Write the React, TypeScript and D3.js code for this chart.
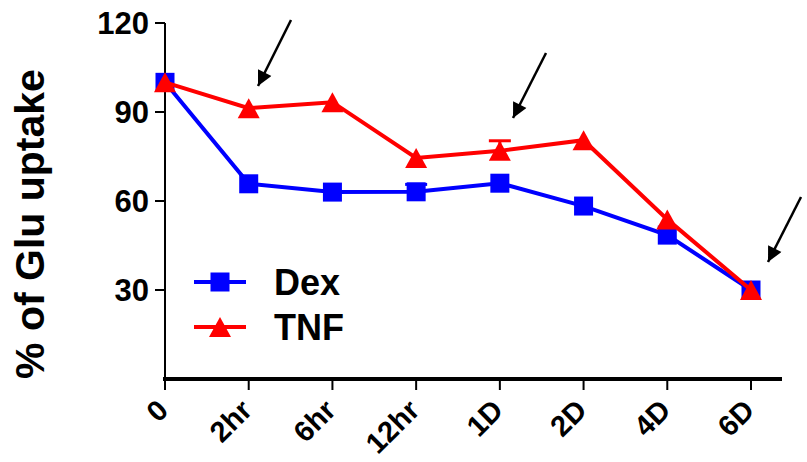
import React from "react";
import * as d3 from "d3";

const categories = ["0", "2hr", "6hr", "12hr", "1D", "2D", "4D", "6D"];
const dexValues = [100, 65.8, 63, 63.1, 66, 58.3, 48.5, 30];
const dexErrors = [0, 0, 0, 2.5, 0, 0, 0, 0];
const tnfValues = [100, 91.3, 93.3, 74.5, 76.9, 80.5, 53.8, 30];
const tnfErrors = [0, 0, 0, 0, 3.4, 0, 0, 0];
const yTicks = [30, 60, 90, 120];
const seriesNames = ["Dex", "TNF"];

// arrows pointing at the time points of interest: [x1, y1, x2, y2]
const arrows = [
  [291, 20, 258, 86],
  [546, 53, 513, 118],
  [801, 197, 768, 262],
];

const W = 807;
const H = 462;
const FONT = "'Liberation Sans', Arial, sans-serif";

export default function App() {
  const x = d3.scalePoint<string>().domain(categories).range([165, 751]);
  const y = d3.scaleLinear().domain([0, 120]).range([379, 23]);

  const line = d3
    .line<number>()
    .x((_, i) => x(categories[i]) as number)
    .y((d) => y(d));

  const square = (cx: number, cy: number, s = 19) => (
    <rect x={cx - s / 2} y={cy - s / 2} width={s} height={s} fill="#0000ff" />
  );
  const triangle = (cx: number, cy: number, w = 22, h = 20) => (
    <path
      d={`M${cx},${cy - h / 2}L${cx + w / 2},${cy + h / 2}L${cx - w / 2},${cy + h / 2}Z`}
      fill="#ff0000"
    />
  );

  const errorBar = (i: number, v: number, e: number, color: string) => {
    if (!e) return null;
    const cx = x(categories[i]) as number;
    return (
      <g key={`e${color}${i}`} stroke={color} strokeWidth={3}>
        <line x1={cx} x2={cx} y1={y(v)} y2={y(v + e)} />
        <line x1={cx - 11} x2={cx + 11} y1={y(v + e)} y2={y(v + e)} />
      </g>
    );
  };

  return (
    <svg
      width={W}
      height={H}
      style={{ position: "absolute", left: 0, top: 0, background: "#fff" }}
    >
      <defs>
        <marker
          id="arrowHead"
          viewBox="0 0 10 10"
          refX="10"
          refY="5"
          markerWidth="6.5"
          markerHeight="6"
          markerUnits="strokeWidth"
          orient="auto"
        >
          <path d="M0,0L10,5L0,10Z" fill="#000" />
        </marker>
      </defs>

      {/* y axis */}
      <line x1={165} x2={165} y1={y(120)} y2={y(0)} stroke="#000" strokeWidth={2} />
      {yTicks.map((t) => (
        <g key={t}>
          <line x1={155} x2={165} y1={y(t)} y2={y(t)} stroke="#000" strokeWidth={2} />
          <text
            x={149}
            y={y(t)}
            dy="0.36em"
            textAnchor="end"
            fontFamily={FONT}
            fontWeight="bold"
            fontSize={31}
          >
            {t}
          </text>
        </g>
      ))}
      <text
        transform={`translate(44,224) rotate(-90)`}
        textAnchor="middle"
        fontFamily={FONT}
        fontWeight="bold"
        fontSize={41}
      >
        % of Glu uptake
      </text>

      {/* x axis */}
      <line x1={163} x2={782} y1={y(0)} y2={y(0)} stroke="#000" strokeWidth={4} />
      {categories.map((c) => {
        const cx = x(c) as number;
        return (
          <g key={c}>
            <line x1={cx} x2={cx} y1={y(0)} y2={y(0) + 11} stroke="#000" strokeWidth={2} />
            <text
              transform={`translate(${cx + 5},${y(0) + 33}) rotate(-45)`}
              textAnchor="end"
              fontFamily={FONT}
              fontWeight="bold"
              fontSize={29}
            >
              {c}
            </text>
          </g>
        );
      })}

      {/* Dex series */}
      {dexValues.map((v, i) => errorBar(i, v, dexErrors[i], "#0000ff"))}
      <path d={line(dexValues) || ""} fill="none" stroke="#0000ff" strokeWidth={4} />
      {dexValues.map((v, i) => (
        <g key={`d${i}`}>{square(x(categories[i]) as number, y(v))}</g>
      ))}

      {/* TNF series */}
      {tnfValues.map((v, i) => errorBar(i, v, tnfErrors[i], "#ff0000"))}
      <path d={line(tnfValues) || ""} fill="none" stroke="#ff0000" strokeWidth={4} />
      {tnfValues.map((v, i) => (
        <g key={`t${i}`}>{triangle(x(categories[i]) as number, y(v))}</g>
      ))}

      {/* legend */}
      {seriesNames.map((name, i) => {
        const ly = 282 + i * 45;
        const color = i === 0 ? "#0000ff" : "#ff0000";
        return (
          <g key={name}>
            <line x1={194} x2={246} y1={ly} y2={ly} stroke={color} strokeWidth={4} />
            {i === 0 ? square(220, ly) : triangle(220, ly)}
            <text
              x={274}
              y={ly}
              dy="0.36em"
              fontFamily={FONT}
              fontWeight="bold"
              fontSize={36}
            >
              {name}
            </text>
          </g>
        );
      })}

      {/* arrows */}
      {arrows.map(([x1, y1, x2, y2], i) => (
        <line
          key={`a${i}`}
          x1={x1}
          y1={y1}
          x2={x2}
          y2={y2}
          stroke="#000"
          strokeWidth={2.5}
          markerEnd="url(#arrowHead)"
        />
      ))}
    </svg>
  );
}
